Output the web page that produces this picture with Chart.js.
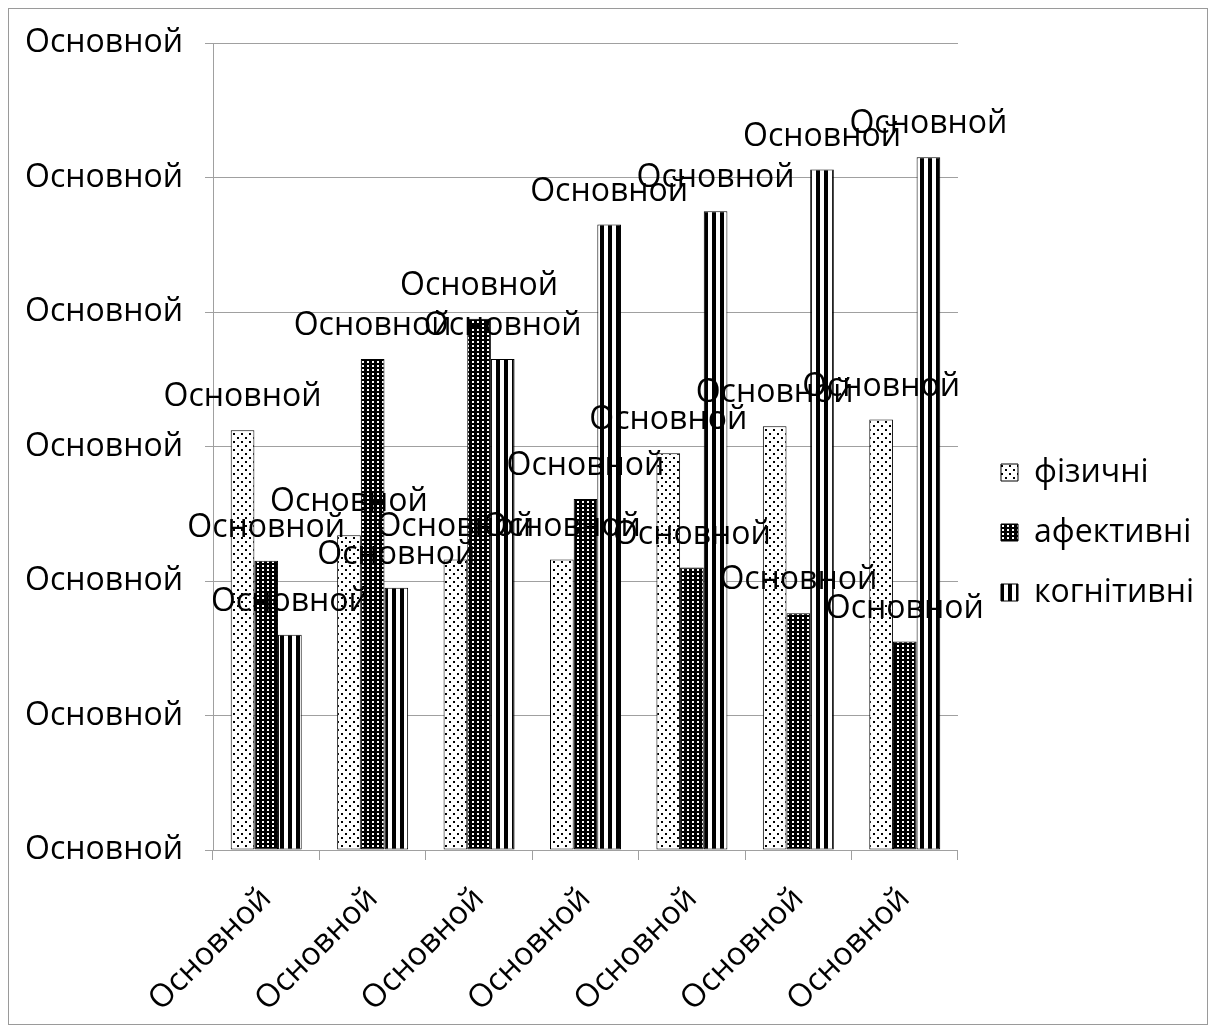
<!DOCTYPE html>
<html>
<head>
<meta charset="utf-8">
<script src="https://cdn.jsdelivr.net/npm/chart.js@4.4.1/dist/chart.umd.min.js"></script>
<style>
  html, body { margin: 0; padding: 0; background: #ffffff; }
  #wrap { width: 1215px; height: 1032px; }
</style>
</head>
<body>
<div id="wrap"><canvas id="chart" width="1215" height="1032"></canvas></div>
<script>
// Categories along the horizontal axis
const categories = ['Основной', 'Основной', 'Основной', 'Основной', 'Основной', 'Основной', 'Основной'];

// Series names
const seriesNames = ['фізичні', 'афективні', 'когнітивні'];

// Series values
const physical  = [3.12, 2.34, 2.16, 2.16, 2.95, 3.15, 3.20];
const affective = [2.15, 3.65, 3.95, 2.61, 2.10, 1.76, 1.55];
const cognitive = [1.60, 1.95, 3.65, 4.65, 4.75, 5.06, 5.15];

// Text shown on the value axis ticks and above each bar
const yTickLabels = ['Основной', 'Основной', 'Основной', 'Основной', 'Основной', 'Основной', 'Основной'];
const barLabel = 'Основной';

const FONT_FAMILY = "'Open Sans', 'Noto Sans', sans-serif";
const FONT_SIZE = 32;
const GRID_GREY = '#a0a0a0';

// Fill patterns for the three series
function makeTile(w, h, paint) {
  const c = document.createElement('canvas');
  c.width = w; c.height = h;
  const g = c.getContext('2d');
  paint(g, w, h);
  return document.createElement('canvas').getContext('2d').createPattern(c, 'repeat');
}
const dotFill = makeTile(8, 8, (g, w, h) => {
  g.fillStyle = '#ffffff'; g.fillRect(0, 0, w, h);
  g.fillStyle = '#000000';
  g.fillRect(1, 1, 2, 2);
  g.fillRect(5, 5, 2, 2);
});
const gridFill = makeTile(5, 4, (g, w, h) => {
  g.fillStyle = '#000000'; g.fillRect(0, 0, w, h);
  g.fillStyle = '#ffffff';
  g.fillRect(2, 1, 2, 2);
});
const stripeFill = makeTile(8, 1, (g, w, h) => {
  g.fillStyle = '#ffffff'; g.fillRect(0, 0, w, h);
  g.fillStyle = '#000000';
  g.fillRect(0, 0, 4, 1);
});

// White page with a thin grey frame
const frame = {
  id: 'frame',
  beforeDraw(chart) {
    const ctx = chart.ctx;
    ctx.save();
    ctx.fillStyle = '#ffffff';
    ctx.fillRect(0, 0, chart.width, chart.height);
    ctx.strokeStyle = '#9a9a9a';
    ctx.lineWidth = 1;
    ctx.strokeRect(8.5, 8.5, 1199, 1016);
    ctx.restore();
  }
};

// Leave a wider gap between the plot and the legend
const LEGEND_WIDEN = 6;
const LEGEND_SHIFT = 15;
const legendGap = {
  id: 'legendGap',
  afterInit(chart) {
    const legend = chart.legend;
    if (!legend) return;
    const fit = legend.fit.bind(legend);
    legend.fit = function () {
      fit();
      this.width += LEGEND_WIDEN;
    };
  },
  afterLayout(chart) {
    const legend = chart.legend;
    if (!legend) return;
    legend.left += LEGEND_SHIFT;
  }
};

// Text label above every bar
const barLabels = {
  id: 'barLabels',
  afterDatasetsDraw(chart) {
    const ctx = chart.ctx;
    ctx.save();
    ctx.font = FONT_SIZE + 'px ' + FONT_FAMILY;
    ctx.fillStyle = '#000000';
    ctx.textAlign = 'center';
    ctx.textBaseline = 'middle';
    chart.data.datasets.forEach((ds, i) => {
      const meta = chart.getDatasetMeta(i);
      meta.data.forEach(bar => {
        ctx.fillText(barLabel, bar.x, bar.y - 33);
      });
    });
    ctx.restore();
  }
};

new Chart(document.getElementById('chart'), {
  type: 'bar',
  data: {
    labels: categories,
    datasets: [
      { label: seriesNames[0], data: physical,  backgroundColor: dotFill,    borderColor: '#000000', borderWidth: 1, borderSkipped: false },
      { label: seriesNames[1], data: affective, backgroundColor: gridFill,   borderColor: '#000000', borderWidth: 1, borderSkipped: false },
      { label: seriesNames[2], data: cognitive, backgroundColor: stripeFill, borderColor: '#000000', borderWidth: 1, borderSkipped: false }
    ]
  },
  options: {
    responsive: false,
    animation: false,
    devicePixelRatio: 1,
    layout: { padding: { left: 25, right: 20, top: 43, bottom: 10 } },
    datasets: { bar: { categoryPercentage: 0.667, barPercentage: 1.0 } },
    scales: {
      x: {
        offset: true,
        afterFit(scale) { scale.height = 172; },
        grid: { display: true, drawOnChartArea: false, drawTicks: true, tickLength: 10, color: GRID_GREY, offset: true },
        border: { display: true, color: GRID_GREY },
        ticks: {
          color: '#000000',
          font: { family: FONT_FAMILY, size: FONT_SIZE },
          minRotation: 45, maxRotation: 45, padding: 20
        }
      },
      y: {
        min: 0, max: 6,
        afterFit(scale) { scale.width = 188; },
        grid: { color: GRID_GREY, tickLength: 8, drawTicks: true },
        border: { display: true, color: GRID_GREY },
        ticks: {
          stepSize: 1,
          color: '#000000',
          padding: 22,
          font: { family: FONT_FAMILY, size: FONT_SIZE },
          callback: (v, i) => yTickLabels[i]
        }
      }
    },
    plugins: {
      legend: {
        position: 'right',
        labels: {
          color: '#000000',
          font: { family: FONT_FAMILY, size: FONT_SIZE },
          boxWidth: 17, boxHeight: 17,
          padding: 28
        }
      },
      tooltip: { enabled: false },
      title: { display: false }
    }
  },
  plugins: [frame, legendGap, barLabels]
});
</script>
</body>
</html>
